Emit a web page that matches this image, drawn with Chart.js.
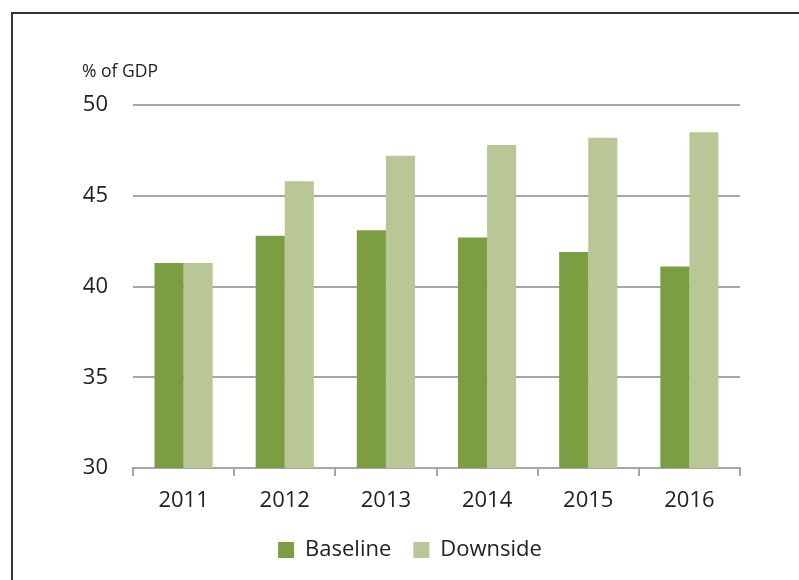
<!DOCTYPE html>
<html>
<head>
<meta charset="utf-8">
<script src="https://cdn.jsdelivr.net/npm/chart.js@4.4.1/dist/chart.umd.min.js"></script>
<style>
  html, body { margin: 0; padding: 0; background: #fff; }
  #wrap { position: relative; width: 799px; height: 580px; overflow: hidden; }
  #frame {
    position: absolute; left: 11px; top: 12px; width: 900px; height: 700px;
    border-left: 2px solid #333; border-top: 2px solid #333;
  }
  #chart { position: absolute; left: 0; top: 0; }
</style>
</head>
<body>
<div id="wrap">
  <div id="frame"></div>
  <canvas id="chart" width="799" height="580"></canvas>
</div>
<script>
// Debt paths, % of GDP
const years = ["2011", "2012", "2013", "2014", "2015", "2016"];
const baseline = [41.3, 42.8, 43.1, 42.7, 41.9, 41.1];
const downside = [41.3, 45.8, 47.2, 47.8, 48.2, 48.5];
const yTicks = [30, 35, 40, 45, 50];

const FONT = "'Open Sans', 'Noto Sans', sans-serif";
const GRID = "#a6a6a6";
const LEGEND_SHIFT = 40;

// unit label above the value axis
const unitLabel = {
  id: "unitLabel",
  afterDraw(chart) {
    const ctx = chart.ctx;
    ctx.save();
    ctx.font = "17.5px " + FONT;
    ctx.fillStyle = "#222";
    ctx.textBaseline = "middle";
    ctx.fillText("% of GDP", 82, 72);
    ctx.restore();
  },
};

// centre the legend under the plot rather than the whole canvas
const legendShift = {
  id: "legendShift",
  afterLayout(chart) {
    if (chart.legend) {
      chart.legend.left += LEGEND_SHIFT;
      chart.legend.right += LEGEND_SHIFT;
    }
  },
};

new Chart(document.getElementById("chart"), {
  type: "bar",
  data: {
    labels: years,
    datasets: [
      {
        label: "Baseline",
        data: baseline,
        backgroundColor: "#7b9e42",
        categoryPercentage: 0.575,
        barPercentage: 1.0,
      },
      {
        label: "Downside",
        data: downside,
        backgroundColor: "#b8c795",
        categoryPercentage: 0.575,
        barPercentage: 1.0,
      },
    ],
  },
  options: {
    responsive: false,
    animation: false,
    layout: { padding: { left: 0, right: 59, top: 105, bottom: 9 } },
    plugins: {
      tooltip: { enabled: false },
      legend: {
        position: "bottom",
        labels: {
          font: { family: FONT, size: 22 },
          color: "#222",
          boxWidth: 16,
          boxHeight: 16,
          padding: 22,
        },
      },
    },
    scales: {
      x: {
        grid: { drawOnChartArea: false, drawTicks: true, tickLength: 8, color: GRID, lineWidth: 2 },
        border: { display: true, color: GRID, width: 2 },
        ticks: { font: { family: FONT, size: 22 }, color: "#222", padding: 12 },
        afterFit(scale) { scale.height = 49; },
      },
      y: {
        min: 30,
        max: 50,
        afterBuildTicks(scale) { scale.ticks = yTicks.map((v) => ({ value: v })); },
        grid: { drawTicks: false, color: GRID, lineWidth: 2 },
        border: { display: false },
        ticks: { font: { family: FONT, size: 22 }, color: "#222", padding: 25 },
        afterFit(scale) { scale.width = 133; },
      },
    },
  },
  plugins: [unitLabel, legendShift],
});
</script>
</body>
</html>
